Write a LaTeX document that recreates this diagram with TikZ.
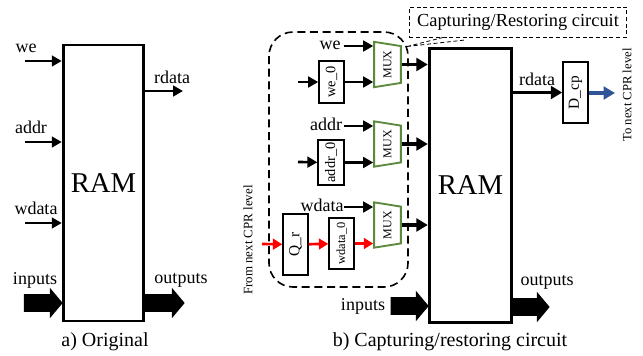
\documentclass[tikz,border=0pt]{standalone}
\usepackage{fontspec}
\setmainfont{Liberation Serif}
\usepackage{xcolor}
\usetikzlibrary{arrows.meta,positioning,shapes.geometric,shapes.arrows}
\definecolor{muxgreen}{HTML}{5B8A3C}
\definecolor{cprblue}{HTML}{2F5597}
\newcommand{\fsize}[1]{\fontsize{#1}{#1}\selectfont}
\tikzset{
    sigarrow/.style={-{Triangle[length=7.5pt,width=8pt]}, line width=2pt, black},
    fatarrow/.style={-{Triangle[length=8.5pt,width=9.5pt]}, line width=2.7pt, black},
    redarrow/.style={-{Triangle[length=7pt,width=8pt]}, line width=2pt, red},
    bigarrow/.style={single arrow, fill=black, inner xsep=0pt, inner ysep=6.5pt, anchor=tip,
        single arrow head extend=4.7pt, single arrow tip angle=100},
    rambox/.style={draw, line width=2.1pt, inner sep=0pt, font=\fsize{21.5}},
    regbox/.style={draw, line width=1.4pt, inner sep=0pt, rotate=90, font=\fsize{10.8}},
    muxbox/.style={draw=muxgreen, line width=1.4pt, trapezium, trapezium stretches=true,
        trapezium left angle=68, trapezium right angle=68, shape border rotate=180, rotate=90,
        inner sep=0pt, minimum width=34pt, minimum height=20pt, font=\fsize{9}},
    lbl/.style={font=\fsize{13.5}, inner sep=0pt},
    captxt/.style={font=\fsize{15}, inner sep=0pt},
    sidelbl/.style={font=\fsize{9.7}, inner sep=0pt, rotate=90}
}
\begin{document}
\begin{tikzpicture}[x=0.75pt, y=-0.75pt]
    \useasboundingbox (0,0) rectangle (643,355);

    % ORIGINAL
    \node[rambox, minimum width=60.5pt, minimum height=207pt] (ramA) at (103.5,183) {RAM};
    \node[lbl] (weA) at (26,48) {we};
    \node[lbl] (addrA) at (31,127) {addr};
    \node[lbl] (wdataA) at (36,208) {wdata};
    \node[lbl] (inputsA) at (35,280) {inputs};
    \node[lbl] (rdataA) at (172,77) {rdata};
    \node[lbl] (outputsA) at (181,280) {outputs};
    \node[captxt] (capA) at (105,342) {a) Original};

    \coordinate (weAin) at (25,61);
    \coordinate (addrAin) at (25,142);
    \coordinate (wdataAin) at (25,223);
    \coordinate (rdataAout) at (183,91);
    \draw[sigarrow] (weAin) -- (weAin -| ramA.west);
    \draw[sigarrow] (addrAin) -- (addrAin -| ramA.west);
    \draw[sigarrow] (wdataAin) -- (wdataAin -| ramA.west);
    \draw[sigarrow] (rdataAout -| ramA.east) -- (rdataAout);
    \node[bigarrow, minimum height=29pt] (inarrowA) at (63,303) {};
    \node[bigarrow, minimum height=31pt] (outarrowA) at (185,303) {};

    % CAPTURING/RESTORING
    \draw[dashed, line width=1.2pt, dash pattern=on 6pt off 3.5pt, rounded corners=18pt] (269,32) rectangle (408,287);
    \node[rambox, minimum width=62pt, minimum height=206pt] (ramB) at (470.5,185.5) {RAM};

    % Muxes
    \node[muxbox] (muxW) at (387.5,64.5) {MUX};
    \node[muxbox] (muxA) at (387.5,144) {MUX};
    \node[muxbox] (muxD) at (387.5,225) {MUX};

    % Registers
    \node[regbox, minimum width=31.5pt, minimum height=18.5pt] (we0) at (331.5,82) {we\_0};
    \node[regbox, minimum width=34pt, minimum height=19pt] (addr0) at (331,162.5) {addr\_0};
    \node[regbox, minimum width=38pt, minimum height=18.5pt, font=\fsize{9.3}] (wdata0) at (341.5,243.5) {wdata\_0};
    \node[regbox, minimum width=45.5pt, minimum height=18.5pt, font=\fsize{11.5}] (Qr) at (295.5,244.5) {Q\_r};
    \node[regbox, minimum width=46pt, minimum height=18.5pt, font=\fsize{11.5}] (Dcp) at (575.5,92.5) {D\_cp};

    % Labels
    \node[lbl] (we) at (330,45) {we};
    \node[lbl] (addr) at (326,124) {addr};
    \node[lbl] (wdata) at (322,205) {wdata};
    \node[lbl] (inputs) at (363,306) {inputs};
    \node[lbl] (rdata) at (537,79) {rdata};
    \node[lbl] (outputs) at (547,282) {outputs};
    \node[captxt] (capB) at (450,342) {b) Capturing/restoring circuit};
    \node[sidelbl] (fromcpr) at (248,240) {From next CPR level};
    \node[sidelbl, font=\fsize{9.5}] (tocpr) at (627,95) {To next CPR level};

    % Callout
    \node[draw, densely dashed, line width=0.6pt, inner sep=0pt, minimum width=163pt, minimum height=22.5pt, font=\fsize{13.8}] (callout) at (518,22) {Capturing/Restoring circuit};
    \coordinate (calltip) at (407,46.5);
    \coordinate (callA) at (445,37);
    \coordinate (callB) at (465,40);
    \draw[densely dashed, line width=0.6pt] (calltip) -- (callA) (calltip) -- (callB);

    % Signals
    \coordinate (wesrc) at (344,46);
    \coordinate (addrsrc) at (344,126);
    \coordinate (wdatasrc) at (344,207);
    \coordinate (we0in) at (298,82);
    \coordinate (addr0in) at (298,162);
    \coordinate (Qrin) at (262,244);
    \coordinate (cprout) at (615,93);
    \draw[sigarrow] (wesrc) -- (wesrc -| muxW.north);
    \draw[sigarrow] (addrsrc) -- (addrsrc -| muxA.north);
    \draw[sigarrow] (wdatasrc) -- (wdatasrc -| muxD.north);
    \draw[sigarrow] (we0in) -- (we0);
    \draw[sigarrow] (addr0in) -- (addr0);
    \draw[sigarrow] (we0) -- (we0 -| muxW.north);
    \draw[sigarrow] (addr0) -- (addr0 -| muxA.north);
    \draw[redarrow] (Qrin) -- (Qr);
    \draw[redarrow] (Qr) -- (wdata0);
    \draw[redarrow] (wdata0) -- (wdata0 -| muxD.north);
    \draw[fatarrow] (muxW.south) -- (muxW.south -| ramB.west);
    \draw[fatarrow] (muxA.south) -- (muxA.south -| ramB.west);
    \draw[fatarrow] (muxD.south) -- (muxD.south -| ramB.west);
    \draw[fatarrow] (Dcp.north -| ramB.east) -- (Dcp.north);
    \draw[fatarrow, cprblue] (Dcp.south |- cprout) -- (cprout);

    % Big arrows
    \node[bigarrow, minimum height=28.5pt] (inarrowB) at (429,306) {};
    \node[bigarrow, minimum height=28.5pt] (outarrowB) at (550,307) {};
\end{tikzpicture}
\end{document}
